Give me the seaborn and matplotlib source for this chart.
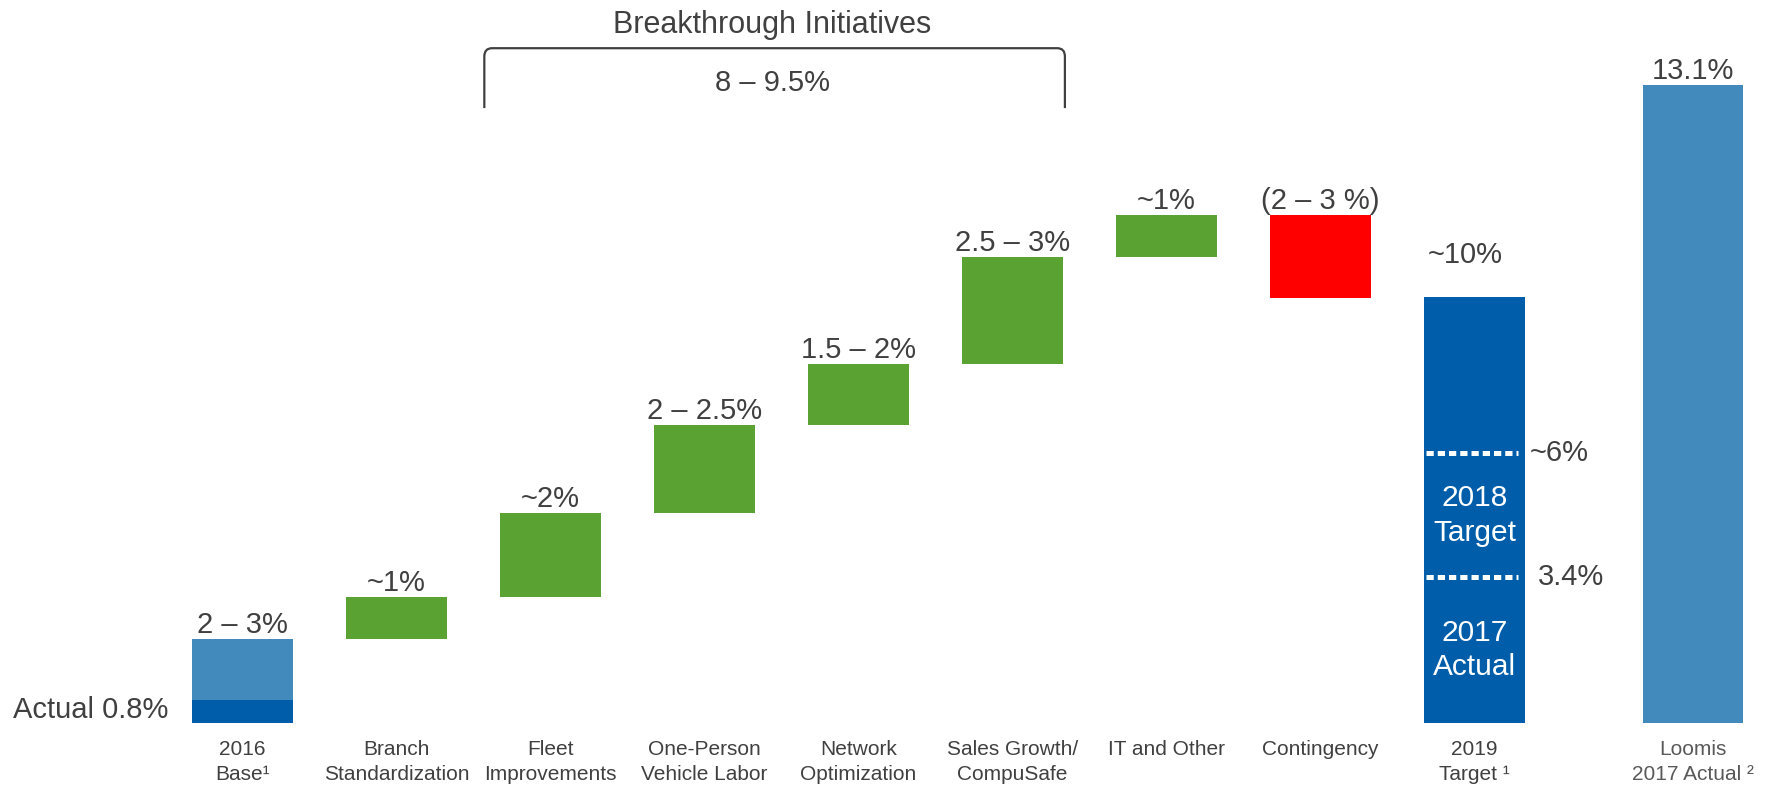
import matplotlib
matplotlib.use("Agg")
import matplotlib.pyplot as plt
from matplotlib.path import Path as MPath
from matplotlib.patches import PathPatch
import numpy as np
import seaborn as sns

# data (bar extents in % units)
categories = [
    "2016\nBase¹", "Branch\nStandardization", "Fleet\nImprovements",
    "One-Person\nVehicle Labor", "Network\nOptimization", "Sales Growth/\nCompuSafe",
    "IT and Other", "Contingency", "2019\nTarget ¹", "Loomis\n2017 Actual ²",
]
positions = [0, 1, 2, 3, 4, 5, 6, 7, 8, 9.42]
bar_bottom = [0, 1.72, 2.59, 4.31, 6.12, 7.37, 9.57, 8.73, 0, 0]
bar_top = [1.72, 2.59, 4.31, 6.12, 7.37, 9.57, 10.43, 10.43, 8.75, 13.1]
bar_kind = ["base", "up", "up", "up", "up", "up", "up", "down", "target", "peer"]
value_labels = ["2 – 3%", "~1%", "~2%", "2 – 2.5%", "1.5 – 2%", "2.5 – 3%",
                "~1%", "(2 – 3 %)", "~10%", "13.1%"]
base_actual = 0.47          # dark part of the 2016 bar
target_marks = [5.54, 3.0]  # dotted lines inside the 2019 bar
target_mark_labels = ["~6%", "3.4%"]
target_inner_labels = ["2018\nTarget", "2017\nActual"]
initiatives_total = "8 – 9.5%"

# config
COLORS = {"base": "#4289BC", "up": "#5AA232", "down": "#FF0000",
          "target": "#005DAA", "peer": "#4289BC"}
TEXT = "#404040"
BAR_W = 0.65
VAL_FS = 21

sns.set_theme(style="white")
plt.rcParams["font.family"] = ["Liberation Sans", "DejaVu Sans"]

fig = plt.figure(figsize=(17.77, 7.86), dpi=100)
ax = fig.add_axes([0, 0, 1, 1])

heights = np.array(bar_top) - np.array(bar_bottom)
sns.barplot(x=positions, y=heights, bottom=bar_bottom, native_scale=True,
            width=BAR_W, saturation=1, errorbar=None, linewidth=0,
            color=COLORS["up"], ax=ax)
for patch, kind in zip(ax.patches, bar_kind):
    patch.set_facecolor(COLORS[kind])

# dark "actual" slice of the 2016 base
ax.bar(positions[0], base_actual, width=BAR_W, color="#005DAA", linewidth=0)

# value labels above bars
for i, (x, lab) in enumerate(zip(positions, value_labels)):
    if bar_kind[i] == "target":
        ax.text(x - 0.06, bar_top[i] + 0.86, lab, ha="center", va="center",
                fontsize=VAL_FS, color=TEXT)
    else:
        ax.annotate(lab, (x, bar_top[i]), xytext=(0, 0), textcoords="offset points",
                    ha="center", va="bottom", fontsize=VAL_FS, color=TEXT)

ax.text(positions[0] - 0.48, base_actual * 0.57, "Actual 0.8%", ha="right",
        va="center", fontsize=21, color=TEXT)

# dotted lines inside the 2019 target bar
tx = positions[8]
for y in target_marks:
    ax.plot([tx - BAR_W / 2 + 0.01, tx + BAR_W / 2 - 0.04], [y, y], color="white",
            lw=3.6, linestyle=(0, (1.45, 0.8)), solid_capstyle="butt",
            dash_capstyle="butt")
ax.text(tx + 0.36, target_marks[0], target_mark_labels[0], ha="left", va="center",
        fontsize=VAL_FS, color=TEXT)
ax.text(tx + 0.41, target_marks[1], target_mark_labels[1], ha="left", va="center",
        fontsize=VAL_FS, color=TEXT)
ax.text(tx, 4.26, target_inner_labels[0], ha="center", va="center", fontsize=21.5,
        color="white", linespacing=1.3)
ax.text(tx, 1.5, target_inner_labels[1], ha="center", va="center", fontsize=21.5,
        color="white", linespacing=1.3)

# category labels
for i, (x, lab) in enumerate(zip(positions, categories)):
    ax.text(x, -0.34, lab, ha="center", va="top", fontsize=15,
            color="#595959" if bar_kind[i] == "peer" else TEXT, linespacing=1.45)

# bracket over the breakthrough initiatives
x0, x1, y0, y1 = 1.57, 5.34, 12.63, 13.86
rx, ry = 0.05, 0.17
verts = [(x0, y0), (x0, y1 - ry), (x0, y1), (x0 + rx, y1),
         (x1 - rx, y1), (x1, y1), (x1, y1 - ry), (x1, y0)]
codes = [MPath.MOVETO, MPath.LINETO, MPath.CURVE3, MPath.CURVE3,
         MPath.LINETO, MPath.CURVE3, MPath.CURVE3, MPath.LINETO]
ax.add_patch(PathPatch(MPath(verts, codes), fill=False, edgecolor=TEXT, lw=1.6))
ax.text(3.44, 14.33, "Breakthrough Initiatives", ha="center", va="center",
        fontsize=22, color=TEXT)
ax.text(3.44, 13.14, initiatives_total, ha="center", va="center",
        fontsize=VAL_FS, color=TEXT)

ax.set_xlim(-1.575, 9.964)
ax.set_ylim(-1.294, 14.85)
ax.axis("off")

fig.savefig("out.png", dpi=100)
